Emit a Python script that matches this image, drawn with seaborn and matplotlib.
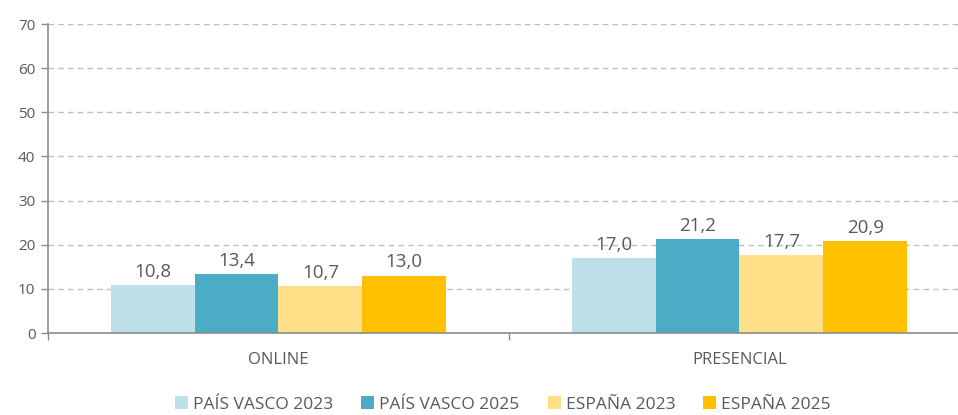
import pandas as pd
import seaborn as sns
import matplotlib.pyplot as plt

# Data
categories = ["ONLINE", "PRESENCIAL"]
series = ["PAÍS VASCO 2023", "PAÍS VASCO 2025", "ESPAÑA 2023", "ESPAÑA 2025"]
values = {
    "PAÍS VASCO 2023": [10.8, 17.0],
    "PAÍS VASCO 2025": [13.4, 21.2],
    "ESPAÑA 2023": [10.7, 17.7],
    "ESPAÑA 2025": [13.0, 20.9],
}
colors = ["#BDE0E8", "#4BACC6", "#FFDF88", "#FFC000"]

rows = []
for s in series:
    for cat, v in zip(categories, values[s]):
        rows.append({"cat": cat, "serie": s, "valor": v})
df = pd.DataFrame(rows)

sns.set_theme(style="white")
plt.rcParams["font.family"] = ["Open Sans", "DejaVu Sans"]
text_col = "#595959"

fig = plt.figure(figsize=(9.58, 4.15), dpi=100)
ax = fig.add_axes([48 / 958, 82 / 415, 910 / 958, 309 / 415])

sns.barplot(data=df, x="cat", y="valor", hue="serie", hue_order=series,
            palette=colors, width=0.727, gap=0, saturation=1,
            linewidth=0, ax=ax, legend=True)

for cont in ax.containers:
    ax.bar_label(cont, labels=[f"{v:.1f}".replace(".", ",") for v in cont.datavalues],
                 padding=3, fontsize=13.5, color=text_col)

ax.set_xlim(-0.5, 1.474)
ax.set_ylim(0, 70)
ax.set_yticks(range(0, 71, 10))
ax.yaxis.grid(True, linestyle=(0, (4, 3)), color="#BFBFBF", linewidth=1)
ax.set_axisbelow(True)
ax.set_xlabel("")
ax.set_ylabel("")

for side in ["top", "right"]:
    ax.spines[side].set_visible(False)
for side in ["left", "bottom"]:
    ax.spines[side].set_color("#8C8C8C")
    ax.spines[side].set_linewidth(1.2)

ax.tick_params(axis="y", labelsize=11, colors=text_col, length=5, width=1,
               color="#8C8C8C", direction="out", left=True, pad=4)
ax.tick_params(axis="x", labelsize=12, colors=text_col, length=0, pad=14)
ax.set_xticks([-0.5, 0.5], minor=True)
ax.tick_params(axis="x", which="minor", length=5, width=1, color="#8C8C8C",
               direction="out", bottom=True)

handles, labels = ax.get_legend_handles_labels()
ax.legend(handles, labels, loc="center", bbox_to_anchor=(0.5, -0.232),
          ncol=4, frameon=False, fontsize=12.5, handlelength=0.75,
          handleheight=0.75, handletextpad=0.3, columnspacing=1.6,
          labelcolor=text_col)

fig.savefig("out.png", dpi=100)
